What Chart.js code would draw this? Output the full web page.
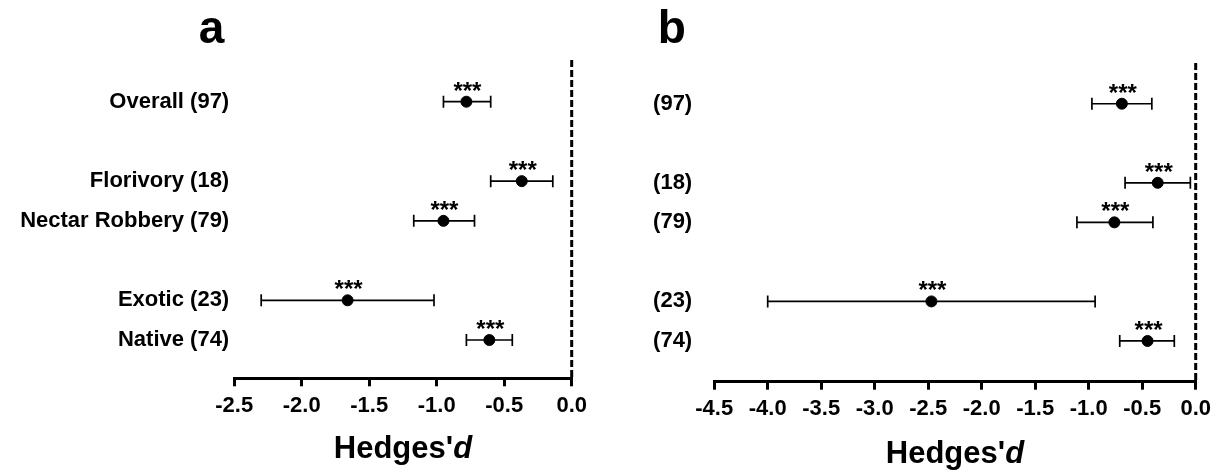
<!DOCTYPE html>
<html>
<head>
<meta charset="utf-8">
<script src="https://cdn.jsdelivr.net/npm/chart.js@4.4.1/dist/chart.umd.min.js"></script>
<style>
  body { margin: 0; background: #fff; }
  .panel { position: absolute; top: 0; width: 606px; height: 471px; }
</style>
</head>
<body>
<div class="panel" style="left:0"><canvas id="chartA"></canvas></div>
<div class="panel" style="left:606px"><canvas id="chartB"></canvas></div>
<script>
const categories = ["Overall", "Florivory", "Nectar Robbery", "Exotic", "Native"];
const counts = [97, 18, 79, 23, 74];
const rows = [0, 2, 3, 5, 6];
const stars = ["***", "***", "***", "***", "***"];

// panel a
const meanA = [-0.78, -0.37, -0.95, -1.66, -0.61];
const lowA = [-0.95, -0.60, -1.17, -2.30, -0.78];
const highA = [-0.60, -0.14, -0.72, -1.02, -0.44];
const ticksA = [-2.5, -2.0, -1.5, -1.0, -0.5, 0.0];

// panel b
const meanB = [-0.69, -0.355, -0.76, -2.47, -0.45];
const lowB = [-0.97, -0.66, -1.11, -4.00, -0.71];
const highB = [-0.41, -0.05, -0.40, -0.94, -0.20];
const ticksB = [-4.5, -4.0, -3.5, -3.0, -2.5, -2.0, -1.5, -1.0, -0.5, 0.0];

const labelsA = categories.map((c, i) => c + " (" + counts[i] + ")");
const labelsB = counts.map(n => "(" + n + ")");

const FONT = "'Liberation Sans', Arial, Helvetica, sans-serif";

function makeChart(id, o) {
  const rowLabel = v => {
    const i = rows.indexOf(v);
    return i < 0 ? "" : o.labels[i];
  };

  const extras = {
    id: "extras",
    beforeDatasetsDraw(chart) {
      const { ctx, chartArea, scales } = chart;
      const x = scales.x, y = scales.y;
      ctx.save();
      // zero line
      ctx.strokeStyle = "#000";
      ctx.lineWidth = 3;
      ctx.setLineDash([7, 3]);
      ctx.beginPath();
      const x0 = x.getPixelForValue(0);
      ctx.moveTo(x0, chartArea.top);
      ctx.lineTo(x0, chartArea.bottom);
      ctx.stroke();
      ctx.setLineDash([]);
      // error bars
      ctx.lineWidth = 1.7;
      rows.forEach((r, i) => {
        const py = y.getPixelForValue(r);
        const xl = x.getPixelForValue(o.low[i]);
        const xh = x.getPixelForValue(o.high[i]);
        ctx.beginPath();
        ctx.moveTo(xl, py); ctx.lineTo(xh, py);
        ctx.moveTo(xl, py - 6); ctx.lineTo(xl, py + 6);
        ctx.moveTo(xh, py - 6); ctx.lineTo(xh, py + 6);
        ctx.stroke();
      });
      ctx.restore();
    },
    afterDatasetsDraw(chart) {
      const { ctx, chartArea, scales } = chart;
      const x = scales.x, y = scales.y;
      ctx.save();
      ctx.fillStyle = "#000";
      ctx.textAlign = "center";
      ctx.textBaseline = "alphabetic";
      ctx.font = "bold 24px " + FONT;
      rows.forEach((r, i) => {
        ctx.fillText(stars[i], x.getPixelForValue(o.mean[i]) + 1, y.getPixelForValue(r) - 3);
      });
      // panel letter
      ctx.font = "bold 46px " + FONT;
      ctx.fillText(o.letter, o.letterX, 43);
      // axis title with italic d
      const t1 = "Hedges'", t2 = "d";
      ctx.font = "bold 31px " + FONT;
      const w1 = ctx.measureText(t1).width;
      ctx.font = "italic bold 31px " + FONT;
      const w2 = ctx.measureText(t2).width;
      const cx = (chartArea.left + chartArea.right) / 2;
      const sx = cx - (w1 + w2) / 2;
      ctx.textAlign = "left";
      ctx.textBaseline = "middle";
      ctx.font = "bold 31px " + FONT;
      ctx.fillText(t1, sx, o.titleY);
      ctx.font = "italic bold 31px " + FONT;
      ctx.fillText(t2, sx + w1, o.titleY);
      ctx.restore();
    }
  };

  return new Chart(document.getElementById(id), {
    type: "scatter",
    data: {
      datasets: [{
        data: rows.map((r, i) => ({ x: o.mean[i], y: r })),
        backgroundColor: "#000",
        borderColor: "#000",
        pointRadius: 5.5,
        pointHoverRadius: 5.5
      }]
    },
    options: {
      responsive: true,
      maintainAspectRatio: false,
      animation: false,
      layout: { padding: { left: 0, right: o.padRight, top: o.top, bottom: 0 } },
      plugins: { legend: { display: false }, tooltip: { enabled: false } },
      scales: {
        x: {
          type: "linear",
          min: o.ticks[0],
          max: 0,
          afterBuildTicks: s => { s.ticks = o.ticks.map(v => ({ value: v })); },
          afterFit: s => { s.height = o.axisH; s.paddingLeft = 0; s.paddingRight = 0; },
          grid: { display: true, drawOnChartArea: false, drawTicks: true, tickLength: 8, lineWidth: 3, color: "#000" },
          border: { display: true, width: 3, color: "#000" },
          ticks: {
            color: "#000",
            padding: 6,
            maxRotation: 0,
            font: { family: FONT, size: 22, weight: "bold" },
            callback: v => v.toFixed(1)
          }
        },
        y: {
          type: "linear",
          reverse: true,
          min: o.yMin,
          max: o.yMax,
          afterBuildTicks: s => { s.ticks = rows.map(v => ({ value: v })); },
          afterFit: s => { s.width = o.axisW; s.paddingTop = 0; s.paddingBottom = 0; },
          grid: { display: false, drawTicks: false },
          border: { display: false },
          ticks: {
            color: "#000",
            padding: o.labelPad,
            font: { family: FONT, size: 22, weight: "bold" },
            callback: v => rowLabel(v)
          }
        }
      }
    },
    plugins: [extras]
  });
}

makeChart("chartA", {
  mean: meanA, low: lowA, high: highA, ticks: ticksA, labels: labelsA,
  letter: "a", letterX: 211.5, titleY: 449,
  padRight: 34.3, top: 60, axisH: 92.7, axisW: 234.2, labelPad: 5,
  yMin: -1.05, yMax: 6.964
});

makeChart("chartB", {
  mean: meanB, low: lowB, high: highB, ticks: ticksB, labels: labelsB,
  letter: "b", letterX: 671.7 - 606, titleY: 454,
  padRight: 16.3, top: 63, axisH: 89.3, axisW: 108.2, labelPad: 22,
  yMin: -1.03, yMax: 7.03
});
</script>
</body>
</html>
